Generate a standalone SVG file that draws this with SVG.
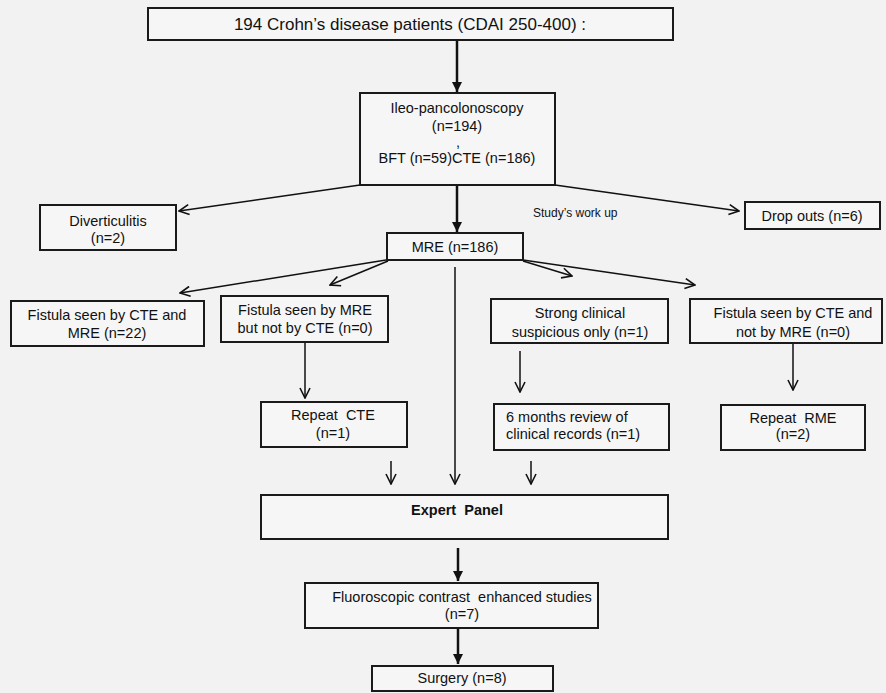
<svg xmlns="http://www.w3.org/2000/svg" width="886" height="693" viewBox="0 0 886 693">
<style>
.box{fill:#f6f6f6;stroke:#1a1a1a;stroke-width:2}
.t{font-family:"Liberation Sans",Arial,sans-serif;font-size:14.5px;fill:#111;text-anchor:middle}
.tl{text-anchor:start}
.b{font-weight:bold}
.thin{fill:none;stroke:#111;stroke-width:1.5}
.thick{fill:none;stroke:#111;stroke-width:2.5}
</style>
<defs>
<marker id="open" viewBox="0 0 12 12" refX="11" refY="6" markerWidth="12" markerHeight="12" markerUnits="userSpaceOnUse" orient="auto"><path d="M1,1 L11,6 L1,11" fill="none" stroke="#111" stroke-width="1.6"/></marker>
<marker id="solid" viewBox="0 0 10 10" refX="10" refY="5" markerWidth="10" markerHeight="10" markerUnits="userSpaceOnUse" orient="auto"><path d="M0,0 L10,5 L0,10 z" fill="#111"/></marker>
</defs>
<rect width="886" height="693" fill="#f2f2f2"/>
<g id="connectors">
<path class="thick" d="M457,40 L457,92" marker-end="url(#solid)"/>
<path class="thick" d="M457,185 L457,232" marker-end="url(#solid)"/>
<path class="thin" d="M360,185 L179,211" marker-end="url(#open)"/>
<path class="thin" d="M555,185 L739,211" marker-end="url(#open)"/>
<path class="thin" d="M386,260 L180,293" marker-end="url(#open)"/>
<path class="thin" d="M388,261 L330,285" marker-end="url(#open)"/>
<path class="thin" d="M455,267 L455,484" marker-end="url(#open)"/>
<path class="thin" d="M523,261 L572,276" marker-end="url(#open)"/>
<path class="thin" d="M523,260 L695,285" marker-end="url(#open)"/>
<path class="thin" d="M305,342 L305,398" marker-end="url(#open)"/>
<path class="thin" d="M520,351 L520,392" marker-end="url(#open)"/>
<path class="thin" d="M793,343 L793,390" marker-end="url(#open)"/>
<path class="thin" d="M391,461 L391,484" marker-end="url(#open)"/>
<path class="thin" d="M531,461 L531,484" marker-end="url(#open)"/>
<path class="thick" d="M458,548 L458,581" marker-end="url(#solid)"/>
<path class="thick" d="M458,628 L458,664" marker-end="url(#solid)"/>
</g>
<g id="n-top"><rect class="box" x="148" y="8" width="525" height="32"/><text class="t" x="410" y="30" style="font-size:17px">194 Crohn’s disease patients (CDAI 250-400) :</text></g>
<g id="n-ileo"><rect class="box" x="360" y="93" width="195" height="92"/>
<text class="t" x="457" y="113">Ileo-pancolonoscopy</text>
<text class="t" x="457" y="131">(n=194)</text>
<text class="t" x="458" y="147">,</text>
<text class="t" x="457" y="163">BFT (n=59)CTE (n=186)</text></g>
<g id="n-div"><rect class="box" x="40" y="205" width="136" height="45"/><text class="t" x="108" y="226">Diverticulitis</text><text class="t" x="108" y="243">(n=2)</text></g>
<g id="n-drop"><rect class="box" x="745" y="202" width="135" height="27"/><text class="t" x="812" y="221">Drop outs (n=6)</text></g>
<text class="t tl" x="533" y="217" style="font-size:12px">Study’s work up</text>
<g id="n-mre"><rect class="box" x="387" y="233" width="136" height="27"/><text class="t" x="455" y="252">MRE (n=186)</text></g>
<g id="n-f1"><rect class="box" x="11" y="301" width="193" height="45"/><text class="t" x="107" y="320">Fistula seen by CTE and</text><text class="t" x="107" y="338">MRE (n=22)</text></g>
<g id="n-f2"><rect class="box" x="221" y="296" width="167" height="46"/><text class="t" x="305" y="315">Fistula seen by MRE</text><text class="t" x="305" y="333">but not by CTE (n=0)</text></g>
<g id="n-strong"><rect class="box" x="491" y="299" width="177" height="44"/><text class="t" x="580" y="318">Strong clinical</text><text class="t" x="580" y="337">suspicious  only (n=1)</text></g>
<g id="n-f4"><rect class="box" x="690" y="299" width="192" height="44"/><text class="t" x="793" y="318">Fistula seen by CTE and</text><text class="t" x="793" y="337">not by MRE (n=0)</text></g>
<g id="n-rcte"><rect class="box" x="261" y="402" width="146" height="45"/><text class="t" x="333" y="420" xml:space="preserve">Repeat  CTE</text><text class="t" x="333" y="438">(n=1)</text></g>
<g id="n-6m"><rect class="box" x="494" y="404" width="175" height="46"/><text class="t tl" x="506" y="422">6 months review of</text><text class="t tl" x="506" y="439">clinical records (n=1)</text></g>
<g id="n-rrme"><rect class="box" x="721" y="405" width="144" height="45"/><text class="t" x="793" y="423" xml:space="preserve">Repeat  RME</text><text class="t" x="793" y="439">(n=2)</text></g>
<g id="n-exp"><rect class="box" x="261" y="495" width="407" height="44"/><text class="t b" x="457" y="515" xml:space="preserve">Expert  Panel</text></g>
<g id="n-fl"><rect class="box" x="305" y="583" width="293" height="45"/><text class="t" x="462" y="602" xml:space="preserve">Fluoroscopic contrast  enhanced studies</text><text class="t" x="462" y="619">(n=7)</text></g>
<g id="n-sur"><rect class="box" x="372" y="666" width="181" height="25"/><text class="t" x="462" y="683">Surgery (n=8)</text></g>
</svg>
